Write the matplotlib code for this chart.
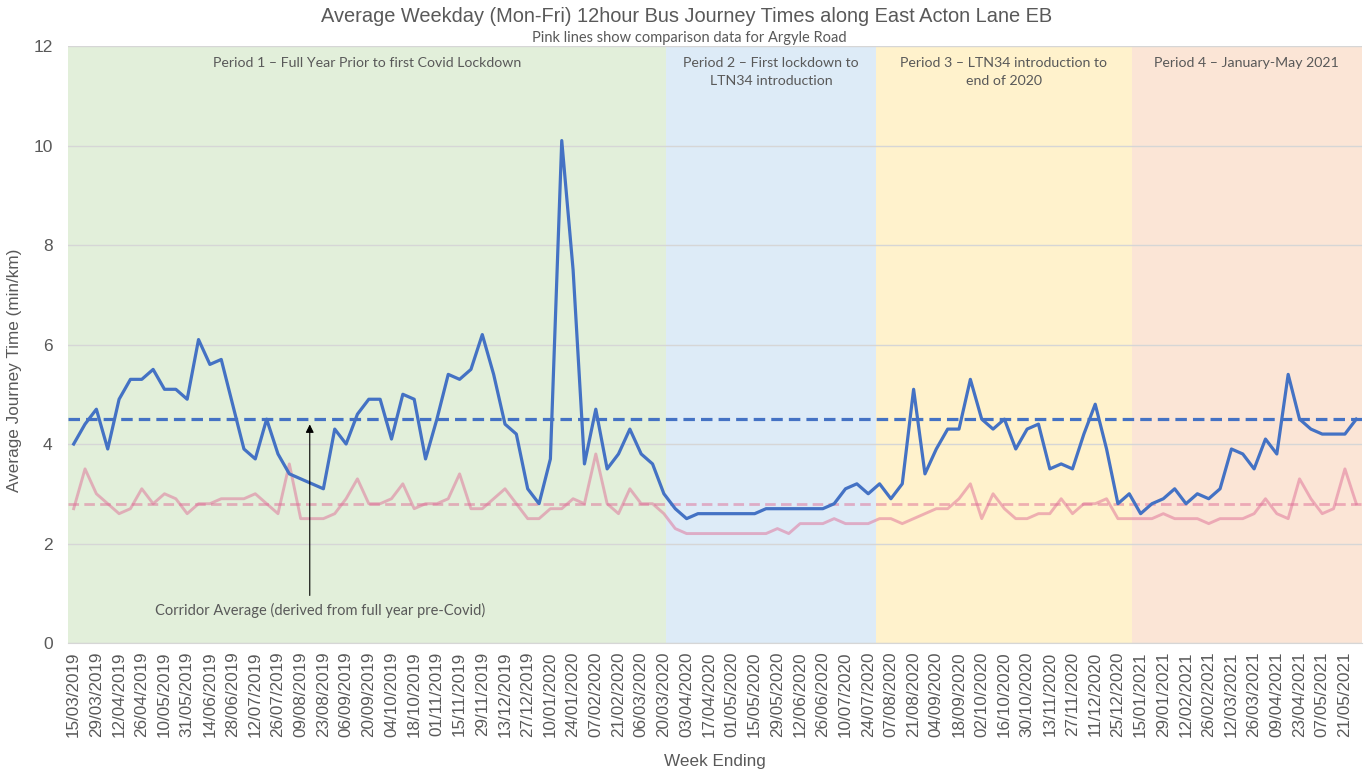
import numpy as np
import matplotlib
matplotlib.use('Agg')
import matplotlib.pyplot as plt

plt.rcParams['font.family'] = ['Liberation Sans', 'DejaVu Sans']

# weekly data, 114 weeks ending 15/03/2019 .. 28/05/2021
east_acton = [4.0, 4.4, 4.7, 3.9, 4.9, 5.3, 5.3, 5.5, 5.1, 5.1,
              4.9, 6.1, 5.6, 5.7, 4.8, 3.9, 3.7, 4.5, 3.8, 3.4,
              3.3, 3.2, 3.1, 4.3, 4.0, 4.6, 4.9, 4.9, 4.1, 5.0,
              4.9, 3.7, 4.5, 5.4, 5.3, 5.5, 6.2, 5.4, 4.4, 4.2,
              3.1, 2.8, 3.7, 10.1, 7.5, 3.6, 4.7, 3.5, 3.8, 4.3,
              3.8, 3.6, 3.0, 2.7, 2.5, 2.6, 2.6, 2.6, 2.6, 2.6,
              2.6, 2.7, 2.7, 2.7, 2.7, 2.7, 2.7, 2.8, 3.1, 3.2,
              3.0, 3.2, 2.9, 3.2, 5.1, 3.4, 3.9, 4.3, 4.3, 5.3,
              4.5, 4.3, 4.5, 3.9, 4.3, 4.4, 3.5, 3.6, 3.5, 4.2,
              4.8, 3.9, 2.8, 3.0, 2.6, 2.8, 2.9, 3.1, 2.8, 3.0,
              2.9, 3.1, 3.9, 3.8, 3.5, 4.1, 3.8, 5.4, 4.5, 4.3,
              4.2, 4.2, 4.2, 4.5]
argyle = [2.7, 3.5, 3.0, 2.8, 2.6, 2.7, 3.1, 2.8, 3.0, 2.9,
          2.6, 2.8, 2.8, 2.9, 2.9, 2.9, 3.0, 2.8, 2.6, 3.6,
          2.5, 2.5, 2.5, 2.6, 2.9, 3.3, 2.8, 2.8, 2.9, 3.2,
          2.7, 2.8, 2.8, 2.9, 3.4, 2.7, 2.7, 2.9, 3.1, 2.8,
          2.5, 2.5, 2.7, 2.7, 2.9, 2.8, 3.8, 2.8, 2.6, 3.1,
          2.8, 2.8, 2.6, 2.3, 2.2, 2.2, 2.2, 2.2, 2.2, 2.2,
          2.2, 2.2, 2.3, 2.2, 2.4, 2.4, 2.4, 2.5, 2.4, 2.4,
          2.4, 2.5, 2.5, 2.4, 2.5, 2.6, 2.7, 2.7, 2.9, 3.2,
          2.5, 3.0, 2.7, 2.5, 2.5, 2.6, 2.6, 2.9, 2.6, 2.8,
          2.8, 2.9, 2.5, 2.5, 2.5, 2.5, 2.6, 2.5, 2.5, 2.5,
          2.4, 2.5, 2.5, 2.5, 2.6, 2.9, 2.6, 2.5, 3.3, 2.9,
          2.6, 2.7, 3.5, 2.8]
east_acton_avg = 4.5
argyle_avg = 2.8

tick_labels = ['15/03/2019', '29/03/2019', '12/04/2019', '26/04/2019', '10/05/2019',
               '31/05/2019', '14/06/2019', '28/06/2019', '12/07/2019', '26/07/2019',
               '09/08/2019', '23/08/2019', '06/09/2019', '20/09/2019', '04/10/2019',
               '18/10/2019', '01/11/2019', '15/11/2019', '29/11/2019', '13/12/2019',
               '27/12/2019', '10/01/2020', '24/01/2020', '07/02/2020', '21/02/2020',
               '06/03/2020', '20/03/2020', '03/04/2020', '17/04/2020', '01/05/2020',
               '15/05/2020', '29/05/2020', '12/06/2020', '26/06/2020', '10/07/2020',
               '24/07/2020', '07/08/2020', '21/08/2020', '04/09/2020', '18/09/2020',
               '02/10/2020', '16/10/2020', '30/10/2020', '13/11/2020', '27/11/2020',
               '11/12/2020', '25/12/2020', '15/01/2021', '29/01/2021', '12/02/2021',
               '26/02/2021', '12/03/2021', '26/03/2021', '09/04/2021', '23/04/2021',
               '07/05/2021', '21/05/2021']

period_names = ['Period 1 \u2013 Full Year Prior to first Covid Lockdown',
                'Period 2 \u2013 First lockdown to\nLTN34 introduction',
                'Period 3 \u2013 LTN34 introduction to\nend of 2020',
                'Period 4 \u2013 January-May 2021']
period_edges = [-0.5, 52.2, 70.7, 93.2, 113.5]  # in week index
period_colors = ['#e2efda', '#ddebf7', '#fff2cc', '#fbe5d6']

grey = '#595959'
blue = '#4472c4'
pink = '#de6e96'

fig = plt.figure(figsize=(13.71, 7.71), dpi=100)
ax = fig.add_axes([0.0496, 0.166, 0.9438, 0.7743])

x = np.arange(len(east_acton))

for i in range(4):
    ax.axvspan(period_edges[i], period_edges[i+1], color=period_colors[i], zorder=0, lw=0)
    ax.text((period_edges[i] + period_edges[i+1]) / 2, 11.78, period_names[i],
            ha='center', va='top', fontsize=10.2, color=grey, family='Lato',
            linespacing=1.65)

ax.set_axisbelow(True)
ax.grid(axis='y', color='#d6d6d6', lw=1)
ax.axhline(argyle_avg, color=pink, lw=2, dashes=(3.8, 1.9), alpha=0.5, zorder=3)
ax.axhline(east_acton_avg, color=blue, lw=2.3, dashes=(3.6, 1.9), zorder=3)
ax.plot(x, argyle, color=pink, lw=2.1, alpha=0.5, zorder=4)
ax.plot(x, east_acton, color=blue, lw=2.3, zorder=5)

ax.annotate('', xy=(20.8, 4.45), xytext=(20.8, 0.9),
            arrowprops=dict(arrowstyle='-|>', color='black', lw=0.8, mutation_scale=12),
            zorder=6)
ax.text(21.7, 0.65, 'Corridor Average (derived from full year pre-Covid)',
        ha='center', va='center', fontsize=10.5, color=grey, family='Lato')

ax.set_xlim(-0.5, len(east_acton) - 0.5)
ax.set_ylim(0, 12)
ax.set_yticks(range(0, 13, 2))
ax.set_xticks(range(0, len(east_acton), 2))
ax.set_xticklabels(tick_labels, rotation=90, fontsize=12.3, color=grey)
ax.tick_params(axis='y', labelsize=12.5, colors=grey, length=0, pad=11)
ax.tick_params(axis='x', length=0, pad=6)
for side in ['top', 'right', 'left']:
    ax.spines[side].set_visible(False)
ax.spines['bottom'].set_color('#d6d6d6')

ax.set_ylabel('Average Journey Time (min/km)', fontsize=12.3, color=grey)
ax.yaxis.set_label_coords(-0.0355, 0.457)
ax.set_xlabel('Week Ending', fontsize=12.3, color=grey, labelpad=12)

fig.text(0.501, 0.978, 'Average Weekday (Mon-Fri) 12hour Bus Journey Times along East Acton Lane EB',
         ha='center', va='center', fontsize=14.4, color=grey)
fig.text(0.503, 0.951, 'Pink lines show comparison data for Argyle Road',
         ha='center', va='center', fontsize=10.5, color=grey, family='Lato')

fig.savefig('out.png', dpi=100)
